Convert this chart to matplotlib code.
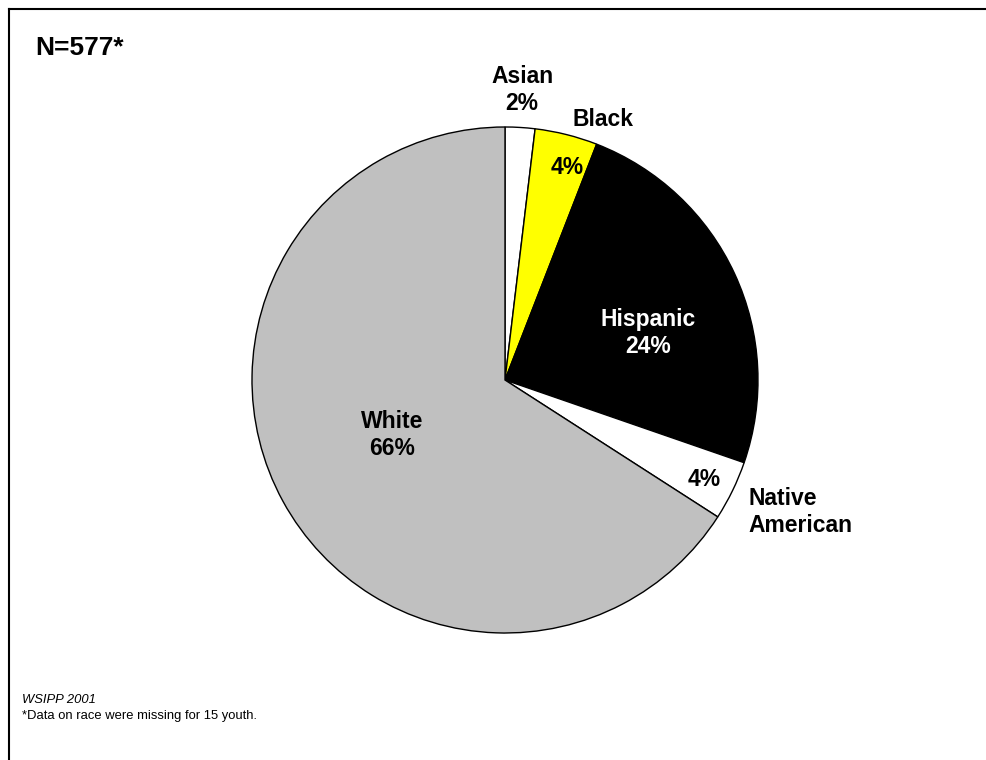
import matplotlib
matplotlib.use("Agg")
import matplotlib.pyplot as plt
from matplotlib.lines import Line2D

categories = ["Asian", "Black", "Hispanic", "Native American", "White"]
values = [1.9, 4.0, 24.4, 3.8, 65.9]
pct_labels = ["2%", "4%", "24%", "4%", "66%"]
colors = ["#ffffff", "#ffff00", "#000000", "#ffffff", "#c0c0c0"]

plt.rcParams['font.family'] = ['Liberation Sans', 'DejaVu Sans']

W, H = 986, 760
fig = plt.figure(figsize=(W / 100, H / 100), dpi=100)

cx, cy, R = 505, 380, 253
ax = fig.add_axes([(cx - R) / W, (H - cy - R) / H, 2 * R / W, 2 * R / H])
ax.pie(values, colors=colors, startangle=90, counterclock=False, radius=1,
       wedgeprops=dict(edgecolor="black", linewidth=1.0))
ax.set_xlim(-1, 1)
ax.set_ylim(-1, 1)
ax.set_aspect("equal")
ax.axis("off")

def P(px, py):
    return ((px - cx) / R, (cy - py) / R)

fs = 16.5
kw = dict(fontsize=fs, fontweight="bold", ha="center", va="center", linespacing=1.25)
ax.text(*P(522, 90), f"{categories[0]}\n{pct_labels[0]}", **kw)
ax.text(*P(603, 119), categories[1], **kw)
ax.text(*P(567, 167), pct_labels[1], **kw)
ax.text(*P(648, 333), f"{categories[2]}\n{pct_labels[2]}", color="white", **kw)
ax.text(*P(704, 480), pct_labels[3], **kw)
kw2 = dict(kw); kw2["ha"] = "left"
ax.text(*P(748, 512), "Native\nAmerican", **kw2)
ax.text(*P(392, 435), f"{categories[4]}\n{pct_labels[4]}", **kw)

fig.text(35 / W, 1 - 48 / H, "N=577*", fontsize=19, fontweight="bold", ha="left", va="center")
fig.text(22 / W, 1 - 700 / H, "WSIPP 2001", fontsize=9.4, style="italic", ha="left", va="center")
fig.text(22 / W, 1 - 716 / H, "*Data on race were missing for 15 youth.", fontsize=9.4, ha="left", va="center")

fig.add_artist(Line2D([9 / W, 1.0], [1 - 9 / H, 1 - 9 / H], color="black", lw=1.5, transform=fig.transFigure))
fig.add_artist(Line2D([9 / W, 9 / W], [1 - 9 / H, 0.0], color="black", lw=1.5, transform=fig.transFigure))

fig.savefig("out.png", dpi=100, facecolor="white")
